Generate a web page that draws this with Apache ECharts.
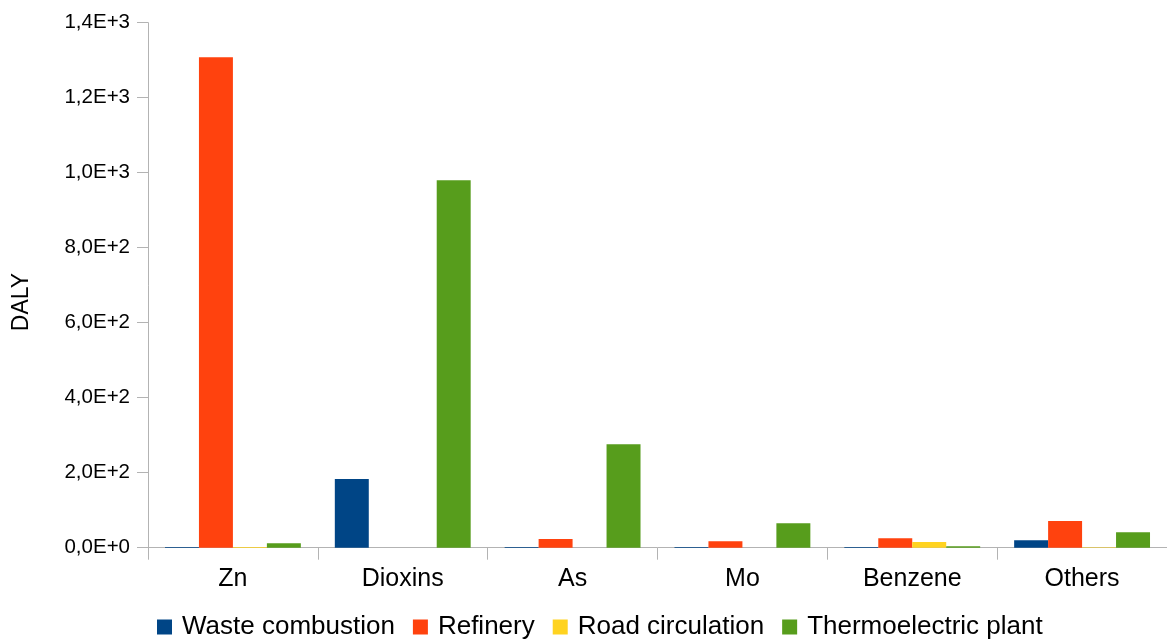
<!DOCTYPE html>
<html>
<head>
<meta charset="utf-8">
<script src="https://cdn.jsdelivr.net/npm/echarts@6/dist/echarts.min.js"></script>
<style>
  html, body { margin: 0; padding: 0; background: #fff; }
  #chart { width: 1167px; height: 642px; }
</style>
</head>
<body>
<div id="chart"></div>
<script>
// DALY by pollutant and emission source
const categories = ['Zn', 'Dioxins', 'As', 'Mo', 'Benzene', 'Others'];
const wasteCombustion   = [2, 183, 2, 2, 2, 20];
const refinery          = [1308, 0, 23, 17, 25, 71];
const roadCirculation   = [2, 0, 0, 0, 15, 1];
const thermoelectric    = [12, 980, 276, 65, 4, 41];
const seriesNames = ['Waste combustion', 'Refinery', 'Road circulation', 'Thermoelectric plant'];
const seriesColors = ['#004586', '#ff420e', '#ffd320', '#579d1c'];
const yAxisTitle = 'DALY';

const FONT = 'Liberation Sans, Arial, sans-serif';
const AXIS_GRAY = '#b3b3b3';

// 1400 -> "1,4E+3"
const sci = v => v.toExponential(1).replace('.', ',').replace('e', 'E');

const chart = echarts.init(document.getElementById('chart'), null, { renderer: 'canvas' });

const dataSets = [wasteCombustion, refinery, roadCirculation, thermoelectric];

chart.setOption({
  animation: false,
  textStyle: { fontFamily: FONT },
  grid: { left: 148, right: -5, top: 22.7, bottom: 94.3, containLabel: false },
  legend: {
    data: seriesNames,
    left: 152,
    top: 609,
    itemWidth: 15,
    itemHeight: 15,
    itemGap: 18,
    icon: 'rect',
    textStyle: { fontFamily: FONT, fontSize: 26, color: '#000', padding: [0, 0, 0, 5] }
  },
  graphic: [{
    type: 'text',
    x: 22,
    y: 302,
    rotation: Math.PI / 2,
    style: {
      text: yAxisTitle,
      fontFamily: FONT,
      fontSize: 23,
      fill: '#000',
      align: 'center',
      verticalAlign: 'middle'
    }
  }],
  xAxis: {
    type: 'category',
    data: categories,
    axisLine: { lineStyle: { color: AXIS_GRAY, width: 1 } },
    axisTick: { show: true, length: 12, lineStyle: { color: AXIS_GRAY } },
    axisLabel: { color: '#000', fontSize: 25, margin: 19, fontFamily: FONT },
    splitLine: { show: false }
  },
  yAxis: {
    type: 'value',
    min: 0,
    max: 1400,
    interval: 200,
    axisLine: { show: true, lineStyle: { color: AXIS_GRAY, width: 1 } },
    axisTick: { show: true, length: 11, lineStyle: { color: AXIS_GRAY } },
    axisLabel: { color: '#000', fontSize: 20.5, margin: 18, fontFamily: FONT, formatter: sci },
    splitLine: { show: false }
  },
  series: seriesNames.map((name, i) => ({
    name,
    type: 'bar',
    data: dataSets[i],
    barGap: '0%',
    barCategoryGap: '20%',
    itemStyle: { color: seriesColors[i] }
  }))
});
</script>
</body>
</html>
